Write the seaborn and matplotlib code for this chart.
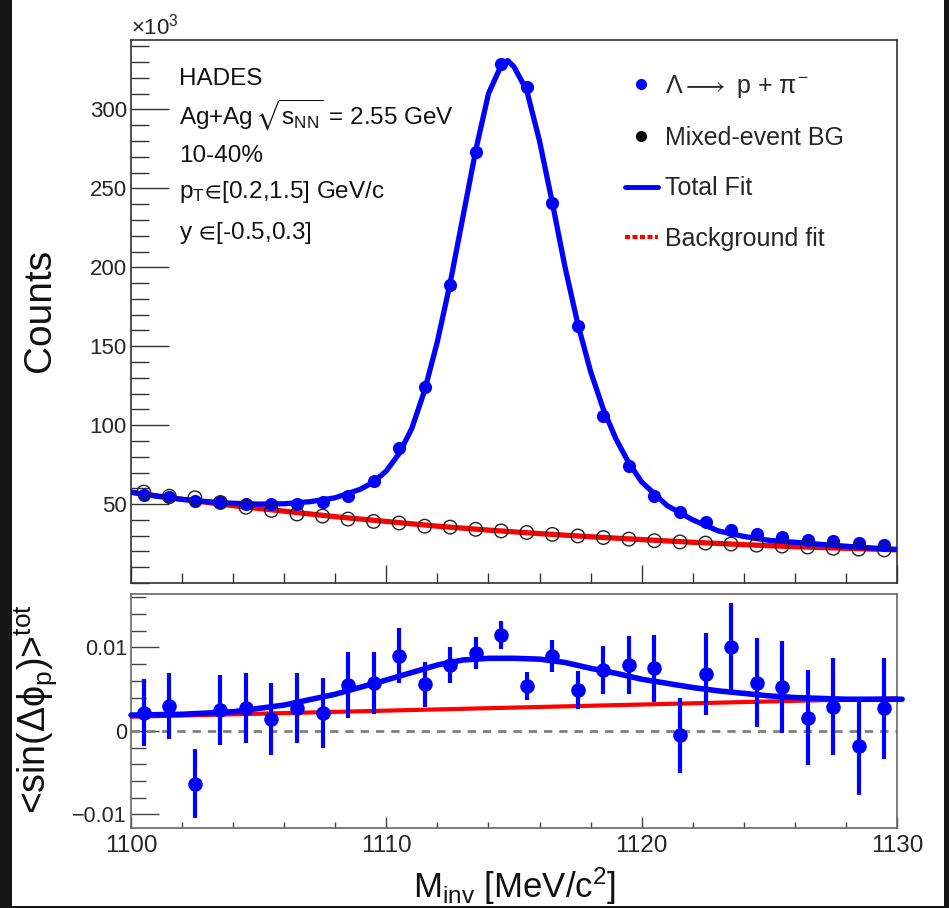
import numpy as np
import pandas as pd
import seaborn as sns
import matplotlib.pyplot as plt
from matplotlib.lines import Line2D
from matplotlib.patches import Rectangle
from matplotlib.ticker import MultipleLocator, FixedLocator

sns.set_theme(context='paper', style='ticks')
plt.rcParams['font.family'] = ['Liberation Sans', 'DejaVu Sans']
plt.rcParams['mathtext.fontset'] = 'custom'
plt.rcParams['mathtext.rm'] = 'Liberation Sans'
plt.rcParams['mathtext.it'] = 'Liberation Sans'
plt.rcParams['mathtext.sf'] = 'Liberation Sans'
plt.rcParams['mathtext.fallback'] = 'stixsans'

# bin centres of the invariant-mass histogram [MeV/c^2]
m_inv = [1100.5 + i for i in range(30)]

# Lambda candidates (x10^3 counts)
signal = [55.7, 54.4, 52.0, 51.0, 50.0, 50.3, 49.8, 51.0, 55.0, 64.5,
          85.4, 124, 189, 273, 329, 314, 241, 163, 106, 74,
          55.0, 45.0, 38.5, 33.5, 31.0, 29.0, 27.0, 26.5, 25.3, 24.0]
# mixed-event background (x10^3 counts)
mixed_bg = [57.6, 55.0, 54.0, 51.0, 48.0, 46.0, 43.7, 42.4, 40.5, 39.0,
            38.0, 36.0, 35.4, 34.0, 33.0, 32.0, 30.8, 29.8, 28.8, 27.8,
            26.8, 26.0, 25.3, 24.7, 24.0, 23.4, 22.8, 22.0, 21.5, 21.0]

# total fit curve
fit_x = [1100, 1101, 1102, 1103, 1104, 1105, 1106, 1107, 1108, 1109,
         1109.5, 1110, 1110.5, 1111, 1111.5, 1112, 1112.5, 1113, 1113.5, 1114,
         1114.5, 1114.75, 1115, 1115.5, 1116, 1116.5, 1117, 1117.5, 1118, 1118.5,
         1119, 1119.5, 1120, 1121, 1122, 1123, 1124, 1125, 1126, 1127,
         1128, 1129, 1130]
fit_total = [57.5, 55.0, 53.0, 51.5, 50.5, 50.0, 50.2, 51.5, 54.0, 59.5,
             64.0, 71.0, 82.0, 98.0, 122, 153, 190, 232, 274, 310,
             328, 331, 327, 312, 280, 241, 200, 164, 134, 110,
             91.0, 76.0, 64.0, 49.0, 40.0, 33.0, 29.5, 27.0, 25.8, 24.5,
             23.3, 22.2, 21.3]
# background fit curve
bg_x = [1100, 1102, 1104, 1106, 1108, 1110, 1112, 1114, 1116, 1118,
        1120, 1122, 1124, 1126, 1128, 1130]
bg_fit = [57.5, 53.0, 49.0, 45.5, 42.0, 39.0, 36.0, 33.5, 31.3, 29.3,
          27.5, 25.8, 24.3, 23.0, 22.0, 21.0]

# <sin(dphi_p)> per bin with statistical errors
sin_val = [0.0022, 0.0030, -0.0063, 0.0025, 0.0027, 0.0014, 0.0027, 0.0021, 0.0055, 0.0057,
           0.0090, 0.0056, 0.0079, 0.0093, 0.0115, 0.0054, 0.0090, 0.0049, 0.0073, 0.0079,
           0.0075, -0.0005, 0.0068, 0.0101, 0.0058, 0.0053, 0.0016, 0.0029, -0.0018, 0.0027]
sin_err = [0.0040, 0.0040, 0.0041, 0.0042, 0.0042, 0.0043, 0.0042, 0.0042, 0.0040, 0.0037,
           0.0033, 0.0027, 0.0022, 0.0019, 0.0017, 0.0017, 0.0019, 0.0023, 0.0029, 0.0035,
           0.0040, 0.0045, 0.0049, 0.0052, 0.0053, 0.0055, 0.0057, 0.0058, 0.0059, 0.0060]

sin_fit_x = [1100, 1102, 1104, 1106, 1108, 1110, 1112, 1113, 1114, 1115,
             1116, 1117, 1118, 1119, 1120, 1121, 1122, 1123, 1124, 1125,
             1126, 1127, 1128, 1129, 1130.2]
sin_fit = [0.0019, 0.0020, 0.0023, 0.0031, 0.0044, 0.0061, 0.0079, 0.0085, 0.0087, 0.0087,
           0.0086, 0.0082, 0.0075, 0.0069, 0.0062, 0.0057, 0.0052, 0.0048, 0.0045, 0.0042,
           0.0040, 0.0039, 0.0038, 0.0038, 0.0038]
sin_bg_x = [1100, 1130]
sin_bg = [0.0017, 0.0039]

hist = pd.DataFrame({'m': m_inv, 'signal': signal, 'bg': mixed_bg,
                     'sin': sin_val, 'err': sin_err})

BLUE = '#0000ff'
RED = '#ff0000'

fig = plt.figure(figsize=(9.49, 9.08), dpi=100, facecolor='white')
# dark screenshot border
for x0, y0, w, h in [(0, 0, 12, 908), (944, 0, 5, 908), (0, 906, 949, 2)]:
    fig.add_artist(Rectangle((x0 / 949, 1 - (y0 + h) / 908), w / 949, h / 908,
                             transform=fig.transFigure, facecolor='#161616',
                             edgecolor='none', zorder=-5))

ax1 = fig.add_axes([131 / 949, 1 - 583 / 908, 766 / 949, 543 / 908])
ax2 = fig.add_axes([131 / 949, 1 - 828 / 908, 766 / 949, 234 / 908])

# ---- upper panel
sns.lineplot(x=bg_x, y=bg_fit, ax=ax1, color=RED, lw=3.8, sort=False,
             estimator=None, zorder=2)
sns.scatterplot(data=hist, x='m', y='signal', ax=ax1, color=BLUE, s=90,
                edgecolor=BLUE, linewidth=0, zorder=3)
sns.lineplot(x=fit_x, y=fit_total, ax=ax1, color=BLUE, lw=3.8, sort=False,
             estimator=None, zorder=4)
sns.scatterplot(data=hist, x='m', y='bg', ax=ax1, facecolor='none', s=95,
                edgecolor='#222222', linewidth=1.0, zorder=5)

ax1.set_xlim(1100, 1130)
ax1.set_ylim(0, 344)
ax1.set_xlabel('')
ax1.set_ylabel('')
ax1.yaxis.set_major_locator(FixedLocator([50, 100, 150, 200, 250, 300]))
ax1.yaxis.set_minor_locator(MultipleLocator(10))
ax1.xaxis.set_major_locator(FixedLocator([1100, 1110, 1120, 1130]))
ax1.xaxis.set_minor_locator(MultipleLocator(2))
ax1.tick_params(axis='x', which='both', direction='in', labelbottom=False,
                top=False, width=1, color='#333333')
ax1.tick_params(axis='x', which='major', length=13)
ax1.tick_params(axis='x', which='minor', length=7)
ax1.tick_params(axis='y', which='both', direction='in', right=False,
                width=1, color='#333333', labelsize=16, pad=3)
ax1.tick_params(axis='y', which='major', length=27)
ax1.tick_params(axis='y', which='minor', length=13)
for sp in ax1.spines.values():
    sp.set_color('#333333')
    sp.set_linewidth(1.2)

fig.text(131 / 949, 1 - 27 / 908, r'$\times$10$^{3}$', fontsize=16,
         ha='left', va='center', color='#222222')

info = ['HADES',
        r'Ag+Ag$\,\sqrt{\rm s_{NN}}$ = 2.55 GeV',
        '10-40%',
        r'p$_{\rm T}\!\in\!$[0.2,1.5] GeV/c',
        r'y$\,\in\!$[-0.5,0.3]']
info_y = [79, 115, 156, 192, 233]
for txt, yy in zip(info, info_y):
    fig.text(179 / 949, 1 - yy / 908, txt, fontsize=17.5, ha='left',
             va='center', color='#111111')

handles = [Line2D([], [], ls='none', marker='o', ms=7, color=BLUE),
           Line2D([], [], ls='none', marker='o', ms=7, color='black'),
           Line2D([], [], ls='-', lw=3.5, color=BLUE),
           Line2D([], [], ls=(0, (1.2, 0.6)), lw=3.0, color=RED)]
labels = [r'$\Lambda\longrightarrow$ p + $\pi^{-}$', 'Mixed-event BG',
          'Total Fit', 'Background fit']
ax1.legend(handles, labels, loc='upper left', bbox_to_anchor=(0.632, 0.958),
           frameon=False, fontsize=18, handlelength=1.3, handletextpad=0.3,
           labelspacing=1.05, numpoints=1, borderaxespad=0)

fig.text(40 / 949, 1 - 310 / 908, 'Counts', rotation=90, fontsize=28,
         ha='center', va='center', color='#111111')

# ---- lower panel
ax2.axhline(0, color='#808080', ls=(0, (3, 2.5)), lw=2.0, zorder=1)
sns.lineplot(x=sin_bg_x, y=sin_bg, ax=ax2, color=RED, lw=3.0, sort=False,
             estimator=None, zorder=2)
ax2.errorbar(hist['m'], hist['sin'], yerr=hist['err'], fmt='none',
             ecolor=BLUE, elinewidth=3.0, capsize=0, zorder=3)
sns.scatterplot(data=hist, x='m', y='sin', ax=ax2, color=BLUE, s=110,
                edgecolor=BLUE, linewidth=0, zorder=4)
sns.lineplot(x=sin_fit_x, y=sin_fit, ax=ax2, color=BLUE, lw=4.0, sort=False,
             estimator=None, zorder=5, clip_on=False)

ax2.set_xlim(1100, 1130)
ax2.set_ylim(-0.01162, 0.0164)
ax2.set_xlabel('')
ax2.set_ylabel('')
ax2.yaxis.set_major_locator(FixedLocator([-0.01, 0, 0.01]))
ax2.yaxis.set_minor_locator(MultipleLocator(0.002))
ax2.set_yticklabels(['\u22120.01', '0', '0.01'])
ax2.xaxis.set_major_locator(FixedLocator([1100, 1110, 1120, 1130]))
ax2.xaxis.set_minor_locator(MultipleLocator(2))
ax2.set_xticklabels(['1100', '1110', '1120', '1130'])
ax2.tick_params(axis='x', which='both', direction='in', top=False,
                width=1, color='#444444', labelsize=17.5, pad=5)
ax2.tick_params(axis='x', which='major', length=8)
ax2.tick_params(axis='x', which='minor', length=4)
ax2.tick_params(axis='y', which='both', direction='in', right=False,
                width=1, color='#444444', labelsize=15.5, pad=3)
ax2.tick_params(axis='y', which='major', length=20)
ax2.tick_params(axis='y', which='minor', length=11)
for sp in ax2.spines.values():
    sp.set_color('#666666')
    sp.set_linewidth(1.2)

fig.text(35 / 949, 1 - 709 / 908, r'<sin($\Delta\phi_{\rm p}$)>$^{\rm tot}$',
         rotation=90, fontsize=27, ha='center', va='center', color='#111111')
fig.text(515 / 949, 1 - 886 / 908, r'M$_{\rm inv}$ [MeV/c$^{2}$]',
         fontsize=25, ha='center', va='center', color='#111111')

fig.savefig('out.png', dpi=100, facecolor=fig.get_facecolor())
